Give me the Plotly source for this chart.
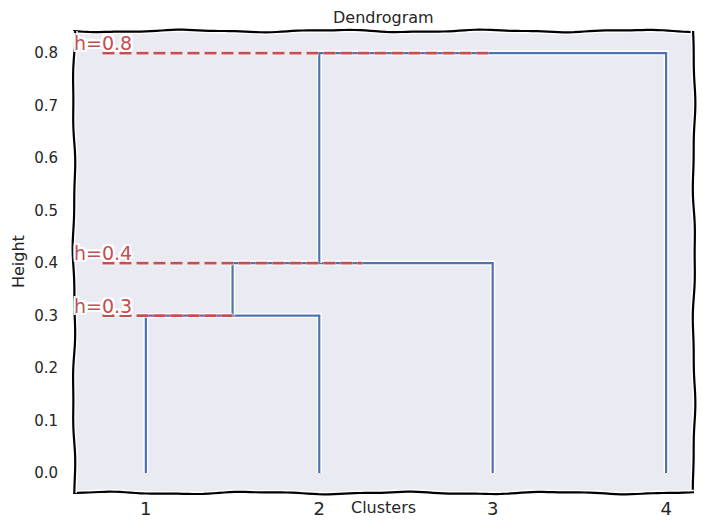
import numpy as np
import plotly.graph_objects as go

# ---- data ----
leaf_positions = [1, 2, 3, 4]
leaf_labels = ["1", "2", "3", "4"]
link_x = [[1, 1, 2, 2], [1.5, 1.5, 3, 3], [2, 2, 4, 4]]
link_y = [[0, 0.3, 0.3, 0], [0.3, 0.4, 0.4, 0], [0.4, 0.8, 0.8, 0]]
cut_heights = [0.3, 0.4, 0.8]
cut_start = 0.75
cut_ends = [1.5, 2.25, 3.0]
cut_labels = ["h=0.3", "h=0.4", "h=0.8"]
y_ticks = [0.0, 0.1, 0.2, 0.3, 0.4, 0.5, 0.6, 0.7, 0.8]
y_tick_labels = ["0.0", "0.1", "0.2", "0.3", "0.4", "0.5", "0.6", "0.7", "0.8"]

BLUE = "#4c72b0"
RED = "#c44e52"
FONT = "DejaVu Sans"
TXT = "#262626"

W, H = 703, 528
L, R, T, B = 73, 10, 31, 35
PW, PH = W - L - R, H - T - B

fig = go.Figure()

# dendrogram links (white halo under blue line)
for xs, ys in zip(link_x, link_y):
    fig.add_trace(go.Scatter(x=xs, y=ys, mode="lines",
                             line=dict(color="white", width=5),
                             hoverinfo="skip", showlegend=False))
    fig.add_trace(go.Scatter(x=xs, y=ys, mode="lines",
                             line=dict(color=BLUE, width=2.2),
                             showlegend=False))

# cut lines
DASH = "12px,5px"
for h, xe in zip(cut_heights, cut_ends):
    fig.add_trace(go.Scatter(x=[cut_start, xe], y=[h, h], mode="lines",
                             line=dict(color="white", width=4.5, dash=DASH),
                             hoverinfo="skip", showlegend=False))
    fig.add_trace(go.Scatter(x=[cut_start, xe], y=[h, h], mode="lines",
                             line=dict(color=RED, width=2.8, dash=DASH),
                             showlegend=False))

shadow = ", ".join(f"{dx}px {dy}px 0 #fff" for dx in (-2, 0, 2) for dy in (-2, 0, 2))
for h, lab in zip(cut_heights, cut_labels):
    fig.add_annotation(x=0, xref="paper", y=h, yref="y", text=lab,
                       xanchor="left", yanchor="middle", yshift=10, xshift=-1,
                       showarrow=False,
                       font=dict(family=FONT, size=19, color=RED, shadow=shadow))

# gently wavy xkcd-like frame (decoration, pixel -> paper)
def wavy(x0, y0, x1, y1, seed):
    n = 120
    t = np.linspace(0, 1, n)
    length = np.hypot(x1 - x0, y1 - y0)
    off = 1.0 * np.sin(2 * np.pi * t * length / 150 + seed) + 0.35 * np.sin(2 * np.pi * t * length / 60 + 2 * seed)
    dx, dy = (x1 - x0) / length, (y1 - y0) / length
    px = x0 + (x1 - x0) * t - dy * off
    py = y0 + (y1 - y0) * t + dx * off
    ux = (px - L) / PW
    uy = 1 - (py - T) / PH
    return "M " + " L ".join(f"{a:.5f},{b:.5f}" for a, b in zip(ux, uy))

edges = [(73, 31, 694, 31), (694, 31, 694, 493), (73, 493, 694, 493), (74, 31, 74, 493)]
for i, (a, b, c, d) in enumerate(edges):
    p = wavy(a, b, c, d, i * 1.7)
    fig.add_shape(type="path", path=p, xref="paper", yref="paper",
                  line=dict(color="white", width=5), layer="above")
    fig.add_shape(type="path", path=p, xref="paper", yref="paper",
                  line=dict(color="black", width=2.2), layer="above")

fig.add_annotation(x=0.5, xref="paper", y=1 + (T - 17) / PH, yref="paper",
                   text="Dendrogram", showarrow=False, xanchor="center", yanchor="middle",
                   font=dict(family=FONT, size=16, color=TXT))
fig.add_annotation(x=(383.5 - L) / PW, xref="paper", y=-(507 - (H - B)) / PH, yref="paper",
                   text="Clusters", showarrow=False, xanchor="center", yanchor="middle",
                   font=dict(family=FONT, size=16, color=TXT))
fig.add_annotation(x=(18 - L) / PW, xref="paper", y=0.5, yref="paper",
                   text="Height", showarrow=False, textangle=-90,
                   xanchor="center", yanchor="middle",
                   font=dict(family=FONT, size=16, color=TXT))

fig.update_layout(
    width=W, height=H,
    margin=dict(l=L, r=R, t=T, b=B),
    paper_bgcolor="white", plot_bgcolor="#eaeaf2",
    showlegend=False,
    xaxis=dict(range=[0.58, 4.155], tickmode="array", tickvals=leaf_positions,
               ticktext=leaf_labels, showgrid=False, zeroline=False, showline=False,
               ticks="", tickfont=dict(family=FONT, size=18, color=TXT),
               ticklabelstandoff=3, fixedrange=True),
    yaxis=dict(range=[-0.038, 0.842], tickmode="array", tickvals=y_ticks,
               ticktext=y_tick_labels, showgrid=False, zeroline=False, showline=False,
               ticks="", tickfont=dict(family=FONT, size=15, color=TXT),
               ticklabelstandoff=14, fixedrange=True),
)

fig.write_html("out.html")
